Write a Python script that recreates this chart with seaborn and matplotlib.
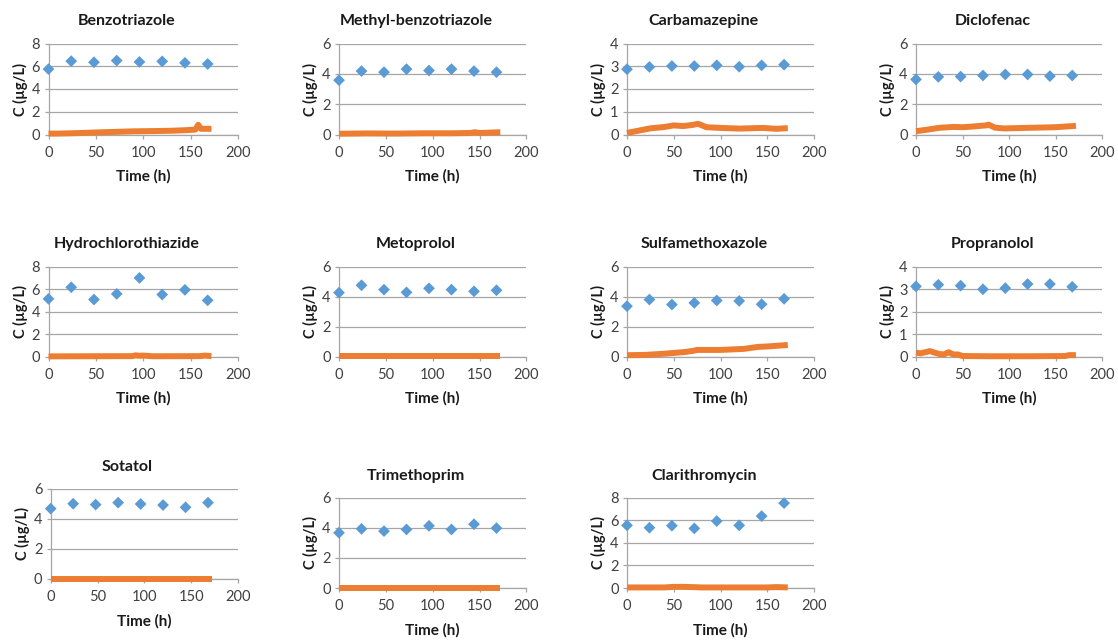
import numpy as np
import pandas as pd
import matplotlib.pyplot as plt
import seaborn as sns

# Названия веществ (порядок панелей)
compounds = ["Benzotriazole", "Methyl-benzotriazole", "Carbamazepine", "Diclofenac",
             "Hydrochlorothiazide", "Metoprolol", "Sulfamethoxazole", "Propranolol",
             "Sotatol", "Trimethoprim", "Clarithromycin"]
y_max = [8, 6, 4, 6, 8, 6, 6, 4, 6, 6, 8]

# Влияние (синие ромбы)
inf_time = [0, 24, 48, 72, 96, 120, 144, 168]
inf_vals = [
    [5.75, 6.45, 6.35, 6.5, 6.38, 6.43, 6.3, 6.2],
    [3.58, 4.18, 4.11, 4.31, 4.22, 4.31, 4.18, 4.11],
    [2.87, 2.97, 3.01, 3.01, 3.04, 2.98, 3.04, 3.07],
    [3.63, 3.8, 3.82, 3.89, 3.96, 3.96, 3.85, 3.89],
    [5.13, 6.16, 5.07, 5.57, 6.99, 5.51, 5.93, 5.0],
    [4.26, 4.75, 4.46, 4.28, 4.55, 4.46, 4.35, 4.42],
    [3.36, 3.8, 3.47, 3.58, 3.74, 3.71, 3.49, 3.85],
    [3.12, 3.19, 3.15, 2.99, 3.04, 3.22, 3.22, 3.1],
    [4.69, 5.02, 4.96, 5.09, 5.0, 4.93, 4.78, 5.09],
    [3.67, 3.93, 3.78, 3.89, 4.13, 3.89, 4.24, 3.98],
    [5.55, 5.34, 5.52, 5.28, 5.93, 5.55, 6.37, 7.52],
]

# Эффлюент (оранжевая линия)
eff_time = [
    [0, 10, 20, 30, 50, 70, 90, 110, 130, 145, 155, 158, 161, 165, 172],
    [0, 30, 60, 90, 120, 140, 145, 150, 172],
    [0, 10, 25, 40, 50, 60, 70, 76, 85, 100, 120, 145, 160, 172],
    [0, 10, 25, 40, 50, 60, 75, 78, 85, 95, 120, 150, 172],
    [0, 40, 88, 92, 96, 100, 110, 160, 165, 172],
    [0, 172],
    [0, 20, 40, 60, 70, 75, 100, 125, 140, 150, 172],
    [0, 5, 10, 15, 20, 25, 30, 35, 40, 45, 50, 80, 120, 160, 165, 172],
    [0, 172],
    [0, 172],
    [0, 40, 50, 60, 70, 80, 150, 160, 172],
]
eff_vals = [
    [0.08, 0.08, 0.1, 0.12, 0.18, 0.23, 0.28, 0.3, 0.33, 0.38, 0.43, 0.85, 0.5, 0.5, 0.5],
    [0.05, 0.07, 0.06, 0.08, 0.08, 0.1, 0.15, 0.1, 0.15],
    [0.07, 0.15, 0.27, 0.33, 0.4, 0.37, 0.42, 0.47, 0.32, 0.29, 0.26, 0.29, 0.25, 0.28],
    [0.22, 0.3, 0.44, 0.5, 0.48, 0.52, 0.6, 0.65, 0.45, 0.4, 0.44, 0.48, 0.57],
    [0.03, 0.04, 0.05, 0.12, 0.08, 0.1, 0.04, 0.05, 0.1, 0.05],
    [0.02, 0.02],
    [0.1, 0.12, 0.2, 0.3, 0.38, 0.45, 0.45, 0.52, 0.65, 0.68, 0.78],
    [0.18, 0.15, 0.2, 0.25, 0.18, 0.12, 0.1, 0.2, 0.1, 0.1, 0.03, 0.02, 0.02, 0.03, 0.07, 0.07],
    [0.02, 0.02],
    [0.02, 0.02],
    [0.05, 0.05, 0.1, 0.1, 0.08, 0.05, 0.05, 0.08, 0.05],
]

BLUE = "#5B9BD5"
ORANGE = "#ED7D31"
GRID = "#A6A6A6"

sns.set_theme(style="white")
plt.rcParams["font.family"] = ["Lato", "DejaVu Sans"]

W, H = 1118, 641
fig = plt.figure(figsize=(W / 100, H / 100), dpi=100)

# Позиции осей в пикселях: left, top, right, bottom
col_x = [(48.5, 238), (339, 526.5), (627, 814), (916, 1102)]
boxes = []
for i in range(11):
    r, c = divmod(i, 4)
    x0, x1 = col_x[c]
    if r == 0:
        t, b = 43.5, 134.5
    elif r == 1:
        t, b = 266.5, 356.7
    else:
        t, b = (489, 579) if c == 0 else (497.7, 588)
        if c == 0:
            x0 = 50.7
    boxes.append((x0, t, x1, b))

for i, name in enumerate(compounds):
    x0, t, x1, b = boxes[i]
    ax = fig.add_axes([x0 / W, 1 - b / H, (x1 - x0) / W, (b - t) / H])

    d_eff = pd.DataFrame({"t": eff_time[i], "c": eff_vals[i]})
    sns.lineplot(data=d_eff, x="t", y="c", ax=ax, color=ORANGE, lw=4.3,
                 solid_capstyle="butt", clip_on=False, zorder=3)
    d_inf = pd.DataFrame({"t": inf_time, "c": inf_vals[i]})
    sns.scatterplot(data=d_inf, x="t", y="c", ax=ax, color=BLUE, marker="D",
                    s=36, edgecolor="none", clip_on=False, zorder=4)

    ax.set_xlim(0, 200)
    ax.set_ylim(0, y_max[i])
    ax.set_xticks([0, 50, 100, 150, 200])
    ystep = 1 if y_max[i] == 4 else 2
    ax.set_yticks(np.arange(0, y_max[i] + 0.1, ystep))
    ax.yaxis.grid(True, color=GRID, lw=0.9)
    ax.set_axisbelow(True)
    for s in ["top", "right"]:
        ax.spines[s].set_visible(False)
    for s in ["left", "bottom"]:
        ax.spines[s].set_color(GRID)
        ax.spines[s].set_linewidth(0.9)
    ax.tick_params(axis="x", bottom=True, length=3, width=0.9, color=GRID,
                   labelsize=10.5, labelcolor="#404040", pad=5)
    ax.tick_params(axis="y", left=True, length=3, width=0.9, color=GRID,
                   labelsize=10.5, labelcolor="#404040", pad=3)
    ax.set_xlabel("Time (h)", fontsize=11, fontweight="bold", color="#1a1a1a", labelpad=7)
    ax.set_ylabel("C (µg/L)", fontsize=10.5, fontweight="bold", color="#1a1a1a", labelpad=3)
    ax.set_title(name, x=0.41, fontsize=11.5, fontweight="bold", color="#1a1a1a", pad=13)

fig.savefig("out.png", dpi=100)
